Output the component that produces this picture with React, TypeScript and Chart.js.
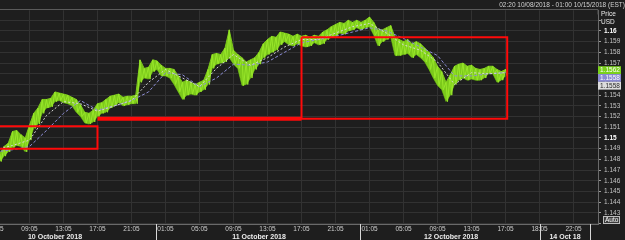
import { useEffect, useRef } from 'react';
import { Chart, registerables } from 'chart.js';

Chart.register(...registerables);

// ---------- data ----------
const headerText = '02:20 10/08/2018 - 01:00 10/15/2018 (EST)';

// x axis is measured in session hours from 05:05, 10 Oct 2018
const timeTickHours = [0, 4, 8, 12, 16, 20, 24, 28, 32, 36, 40, 44, 48, 52, 56, 60, 64, 68];
const timeLabels = ['05:05', '09:05', '13:05', '17:05', '21:05', '01:05', '05:05', '09:05', '13:05', '17:05', '21:05', '01:05', '05:05', '09:05', '13:05', '17:05', '18:05', '22:05'];
const dateCenterHours = [7, 31, 53.6, 67];
const dateLabels = ['10 October 2018', '11 October 2018', '12 October 2018', '14 Oct 18'];
const daySeparatorHours = [18.92, 42.92, 64.06, 69.92];

const priceTicks = [1.142, 1.143, 1.144, 1.145, 1.146, 1.147, 1.148, 1.149, 1.15, 1.151, 1.152, 1.153, 1.154, 1.155, 1.156, 1.157, 1.158, 1.159, 1.16, 1.161];

const priceStartHour = 0.5;
const priceStepHours = 0.5;
const priceHigh = [
  1.1485, 1.1492, 1.1495, 1.1506, 1.1507, 1.1503, 1.1500, 1.1512, 1.1523, 1.1528,
  1.1536, 1.1536, 1.1537, 1.1543, 1.1542, 1.1541, 1.1540, 1.1538, 1.1536, 1.1531,
  1.1524, 1.1523, 1.1526, 1.1532, 1.1533, 1.1536, 1.1539, 1.1540, 1.1541, 1.1538,
  1.1539, 1.1539, 1.1540, 1.1573, 1.1565, 1.1566, 1.1573, 1.1572, 1.1568, 1.1565,
  1.1565, 1.1564, 1.1558, 1.1552, 1.1554, 1.1552, 1.1550, 1.1552, 1.1554, 1.1564,
  1.1578, 1.1579, 1.1578, 1.1584, 1.1601, 1.1582, 1.1578, 1.1575, 1.1571, 1.1573,
  1.1575, 1.1580, 1.1588, 1.1592, 1.1595, 1.1594, 1.1599, 1.1598, 1.1597, 1.1595,
  1.1597, 1.1595, 1.1596, 1.1594, 1.1596, 1.1595, 1.1599, 1.1601, 1.1604, 1.1606,
  1.1608, 1.1607, 1.1610, 1.1608, 1.1610, 1.1608, 1.1610, 1.1613, 1.1608, 1.1601,
  1.1601, 1.1603, 1.1605, 1.1594, 1.1592, 1.1590, 1.1592, 1.1588, 1.1590, 1.1588,
  1.1584, 1.1580, 1.1575, 1.1567, 1.1562, 1.1552, 1.1559, 1.1567, 1.1569, 1.1570,
  1.1567, 1.1568, 1.1565, 1.1564, 1.1565, 1.1567, 1.1567, 1.1564, 1.1562, 1.1564,
];
const priceLow = [
  1.1478, 1.1483, 1.1487, 1.1491, 1.1493, 1.1492, 1.1487, 1.1498, 1.1509, 1.1513,
  1.1523, 1.1528, 1.1529, 1.1534, 1.1535, 1.1533, 1.1532, 1.1530, 1.1524, 1.1520,
  1.1514, 1.1513, 1.1515, 1.1520, 1.1523, 1.1524, 1.1528, 1.1530, 1.1533, 1.1530,
  1.1531, 1.1532, 1.1532, 1.1552, 1.1556, 1.1555, 1.1562, 1.1564, 1.1558, 1.1558,
  1.1556, 1.1550, 1.1543, 1.1536, 1.1540, 1.1541, 1.1540, 1.1543, 1.1545, 1.1550,
  1.1565, 1.1569, 1.1570, 1.1571, 1.1575, 1.1569, 1.1565, 1.1549, 1.1550, 1.1556,
  1.1564, 1.1569, 1.1575, 1.1578, 1.1580, 1.1582, 1.1587, 1.1590, 1.1587, 1.1586,
  1.1588, 1.1586, 1.1585, 1.1586, 1.1589, 1.1587, 1.1588, 1.1592, 1.1594, 1.1595,
  1.1598, 1.1597, 1.1600, 1.1601, 1.1603, 1.1601, 1.1603, 1.1604, 1.1596, 1.1586,
  1.1590, 1.1592, 1.1594, 1.1577, 1.1577, 1.1578, 1.1579, 1.1575, 1.1578, 1.1575,
  1.1571, 1.1564, 1.1556, 1.1549, 1.1545, 1.1534, 1.1540, 1.1550, 1.1554, 1.1556,
  1.1554, 1.1555, 1.1554, 1.1554, 1.1556, 1.1560, 1.1560, 1.1552, 1.1554, 1.1558,
];

const maStartHour = 0;
const maStepHours = 2;
const maFast = [1.1489, 1.1493, 1.1498, 1.1521, 1.1534, 1.1532, 1.1525, 1.1530, 1.1535, 1.1552, 1.1564, 1.1556, 1.1548, 1.1565, 1.1578, 1.1568, 1.1575, 1.1585, 1.1592, 1.1592, 1.1598, 1.1604, 1.1607, 1.1598, 1.1587, 1.1582, 1.1571, 1.1550, 1.1561, 1.1560, 1.1561];
const maSlow = [1.1487, 1.1489, 1.1492, 1.1507, 1.1523, 1.1535, 1.1526, 1.1530, 1.1535, 1.1543, 1.1561, 1.1559, 1.1548, 1.1556, 1.1569, 1.1568, 1.1571, 1.1580, 1.1589, 1.1592, 1.1595, 1.1599, 1.1603, 1.1600, 1.1593, 1.1585, 1.1577, 1.1558, 1.1558, 1.1560, 1.1561];

const zoneStartHour = [-2, 12, 36];
const zoneEndHour = [12, 36, 60.2];
const zoneLow = [1.1490, 1.1518, 1.1518];
const zoneHigh = [1.1511, 1.1518, 1.1594];

const tagValues = [1.1562, 1.1558, 1.1558];

const xMin = 0.53;
const xMax = 70.88;
const yMin = 1.14196;
const yMax = 1.16193;

// ---------- styles ----------
const FONT = '"Liberation Sans", Arial, sans-serif';
const BG = '#1e1e1e';
const GRID = '#323232';
const AXIS = '#6a6a6a';
const RED = '#ff0a0a';
const PRICE_LINE = '#98e62a';
const PRICE_FILL = '#7cc91b';
const PRICE_EDGE = '#4f8a10';
const MA_FAST = '#d6d6d6';
const MA_SLOW = '#8e8ed6';
const TAG_BG = ['#7ad11c', '#8a8ad2', '#dcdcdc'];
const TAG_FG = ['#ffffff', '#ffffff', '#2a2a2a'];

const isMajor = (v: number) => Math.abs(v * 100 - Math.round(v * 100)) < 1e-6;

const decorPlugin = {
  id: 'decor',
  beforeDraw(chart: any) {
    const { ctx, width, height } = chart;
    ctx.save();
    ctx.fillStyle = BG;
    ctx.fillRect(0, 0, width, height);
    ctx.restore();
  },
  afterDraw(chart: any) {
    const { ctx, chartArea } = chart;
    const xs = chart.scales.x;
    const ys = chart.scales.y;
    ctx.save();
    ctx.lineWidth = 1;
    // top frame line
    ctx.strokeStyle = '#5a5a5a';
    const ty = Math.round(chartArea.top) - 0.5;
    ctx.beginPath();
    ctx.moveTo(chartArea.left, ty);
    ctx.lineTo(chartArea.right, ty);
    ctx.lineTo(chartArea.right, ty + 5);
    ctx.stroke();
    // day separators
    ctx.strokeStyle = '#d8d8d8';
    daySeparatorHours.forEach((h) => {
      const px = Math.round(xs.getPixelForValue(h)) + 0.5;
      ctx.beginPath();
      ctx.moveTo(px, chartArea.bottom);
      ctx.lineTo(px, chart.height);
      ctx.stroke();
    });
    // axis unit labels
    ctx.font = `6.5px ${FONT}`;
    ctx.textBaseline = 'middle';
    ctx.textAlign = 'left';
    ctx.fillStyle = '#e8e8e8';
    ctx.fillText('Price', chartArea.right + 3, 14);
    ctx.fillText('USD', chartArea.right + 3, 22);
    // last value tags
    const hgt = 7.8;
    let prevBottom = -Infinity;
    tagValues.forEach((v, i) => {
      const cy = ys.getPixelForValue(v) - 1.5;
      const top = Math.max(cy - hgt / 2, prevBottom);
      ctx.fillStyle = TAG_BG[i];
      ctx.fillRect(chartArea.right, top, 23, hgt);
      ctx.fillStyle = TAG_FG[i];
      ctx.fillText(String(v), chartArea.right + 2, top + hgt / 2 + 0.5);
      prevBottom = top + hgt;
    });
    // Auto button
    const bx = chartArea.right + 5;
    const by = chartArea.bottom - 8;
    ctx.fillStyle = '#3c3c3c';
    ctx.fillRect(bx, by, 17, 8);
    ctx.strokeStyle = '#bdbdbd';
    ctx.strokeRect(bx + 0.5, by + 0.5, 16, 7);
    ctx.fillStyle = '#ffffff';
    ctx.font = `6.5px ${FONT}`;
    ctx.fillText('Auto', bx + 2, by + 4.5);
    ctx.restore();
  },
};

function buildDatasets() {
  const ds: any[] = [];
  zoneStartHour.forEach((s, i) => {
    const e = zoneEndHour[i];
    const lo = zoneLow[i];
    const hi = zoneHigh[i];
    const flat = lo === hi;
    ds.push({
      data: flat
        ? [{ x: s, y: lo }, { x: e, y: lo }]
        : [{ x: s, y: hi }, { x: e, y: hi }, { x: e, y: lo }, { x: s, y: lo }, { x: s, y: hi }],
      borderColor: RED,
      borderWidth: flat ? 4 : 2,
      pointRadius: 0,
      tension: 0,
      fill: false,
      borderCapStyle: 'butt',
      borderJoinStyle: 'miter',
    });
  });
  ds.push({
    data: maFast.map((v, i) => ({ x: maStartHour + i * maStepHours, y: v })),
    borderColor: MA_FAST,
    borderWidth: 1,
    borderDash: [2, 2],
    pointRadius: 0,
    tension: 0,
    fill: false,
  });
  ds.push({
    data: maSlow.map((v, i) => ({ x: maStartHour + i * maStepHours, y: v })),
    borderColor: MA_SLOW,
    borderWidth: 1,
    borderDash: [3, 2],
    pointRadius: 0,
    tension: 0,
    fill: false,
  });
  const zig: any[] = [];
  priceHigh.forEach((hi, i) => {
    const h = priceStartHour + i * priceStepHours;
    zig.push({ x: h, y: hi });
    zig.push({ x: h + priceStepHours * 0.35, y: priceLow[i] });
  });
  ds.push({
    data: zig,
    borderColor: PRICE_LINE,
    borderWidth: 1,
    pointRadius: 0,
    tension: 0,
    fill: false,
  });
  ds.push({
    data: priceHigh.map((v, i) => ({ x: priceStartHour + i * priceStepHours, y: v })),
    borderColor: PRICE_FILL,
    borderWidth: 1,
    backgroundColor: PRICE_FILL,
    pointRadius: 0,
    tension: 0,
    fill: '+1',
  });
  ds.push({
    data: priceLow.map((v, i) => ({ x: priceStartHour + i * priceStepHours, y: v })),
    borderColor: PRICE_EDGE,
    borderWidth: 1,
    pointRadius: 0,
    tension: 0,
    fill: false,
  });
  return ds;
}

const noPad = (s: any) => {
  s.paddingLeft = 0;
  s.paddingRight = 0;
  s.paddingTop = 0;
  s.paddingBottom = 0;
};

export default function App() {
  const ref = useRef<HTMLCanvasElement | null>(null);
  useEffect(() => {
    document.body.style.margin = '0';
    document.body.style.background = BG;
    if (!ref.current) return;
    const tickVal = (c: any) => (c && c.tick ? Number(c.tick.value) : 0);
    const chart = new Chart(ref.current, {
      type: 'line',
      data: { datasets: buildDatasets() },
      plugins: [decorPlugin],
      options: {
        responsive: false,
        animation: false,
        events: [],
        layout: { padding: 0, autoPadding: false } as any,
        plugins: {
          legend: { display: false },
          tooltip: { enabled: false },
          title: {
            display: true,
            text: headerText,
            align: 'end',
            color: '#d0d0d0',
            font: { family: FONT, size: 6.5, weight: 'normal' },
            padding: { top: 1, bottom: 1.5 },
          },
        },
        scales: {
          x: {
            type: 'linear',
            position: 'bottom',
            min: xMin,
            max: xMax,
            weight: 0,
            afterBuildTicks: (s: any) => {
              s.ticks = timeTickHours.map((v) => ({ value: v }));
            },
            afterFit: (s: any) => {
              s.height = 9;
              noPad(s);
            },
            grid: { color: GRID, drawTicks: false },
            border: { display: true, color: AXIS },
            ticks: {
              autoSkip: false,
              maxRotation: 0,
              padding: 1,
              color: '#cfcfcf',
              font: { family: FONT, size: 6.5 },
              callback: (_v: any, i: number) => timeLabels[i] ?? '',
            },
          },
          x2: {
            type: 'linear',
            position: 'bottom',
            min: xMin,
            max: xMax,
            weight: 1,
            afterBuildTicks: (s: any) => {
              s.ticks = dateCenterHours.map((v) => ({ value: v }));
            },
            afterFit: (s: any) => {
              s.height = 7;
              noPad(s);
            },
            grid: { display: false, drawTicks: false },
            border: { display: false },
            ticks: {
              autoSkip: false,
              maxRotation: 0,
              padding: 0,
              color: '#ececec',
              font: { family: FONT, size: 7, weight: 'bold' },
              callback: (_v: any, i: number) => dateLabels[i] ?? '',
            },
          },
          y: {
            type: 'linear',
            position: 'right',
            min: yMin,
            max: yMax,
            afterBuildTicks: (s: any) => {
              s.ticks = priceTicks.map((v) => ({ value: v }));
            },
            afterFit: (s: any) => {
              s.width = 27;
              noPad(s);
            },
            grid: { color: GRID, tickColor: '#9a9a9a', tickLength: 3 },
            border: { display: true, color: AXIS },
            ticks: {
              autoSkip: false,
              padding: 3,
              color: (c: any) => (isMajor(tickVal(c)) ? '#ffffff' : '#c4c4c4'),
              font: (c: any) => ({
                family: FONT,
                size: 6.5,
                weight: isMajor(tickVal(c)) ? 'bold' : 'normal',
              }),
              callback: (v: any) => {
                const n = Number(v);
                if (n > 1.1605 || n < 1.1425) return '';
                return String(Number(n.toFixed(3)));
              },
            },
          },
        },
      } as any,
    });
    return () => chart.destroy();
  }, []);
  return (
    <div style={{ width: 625, height: 240 }}>
      <canvas ref={ref} width={625} height={240} style={{ display: 'block' }} />
    </div>
  );
}
